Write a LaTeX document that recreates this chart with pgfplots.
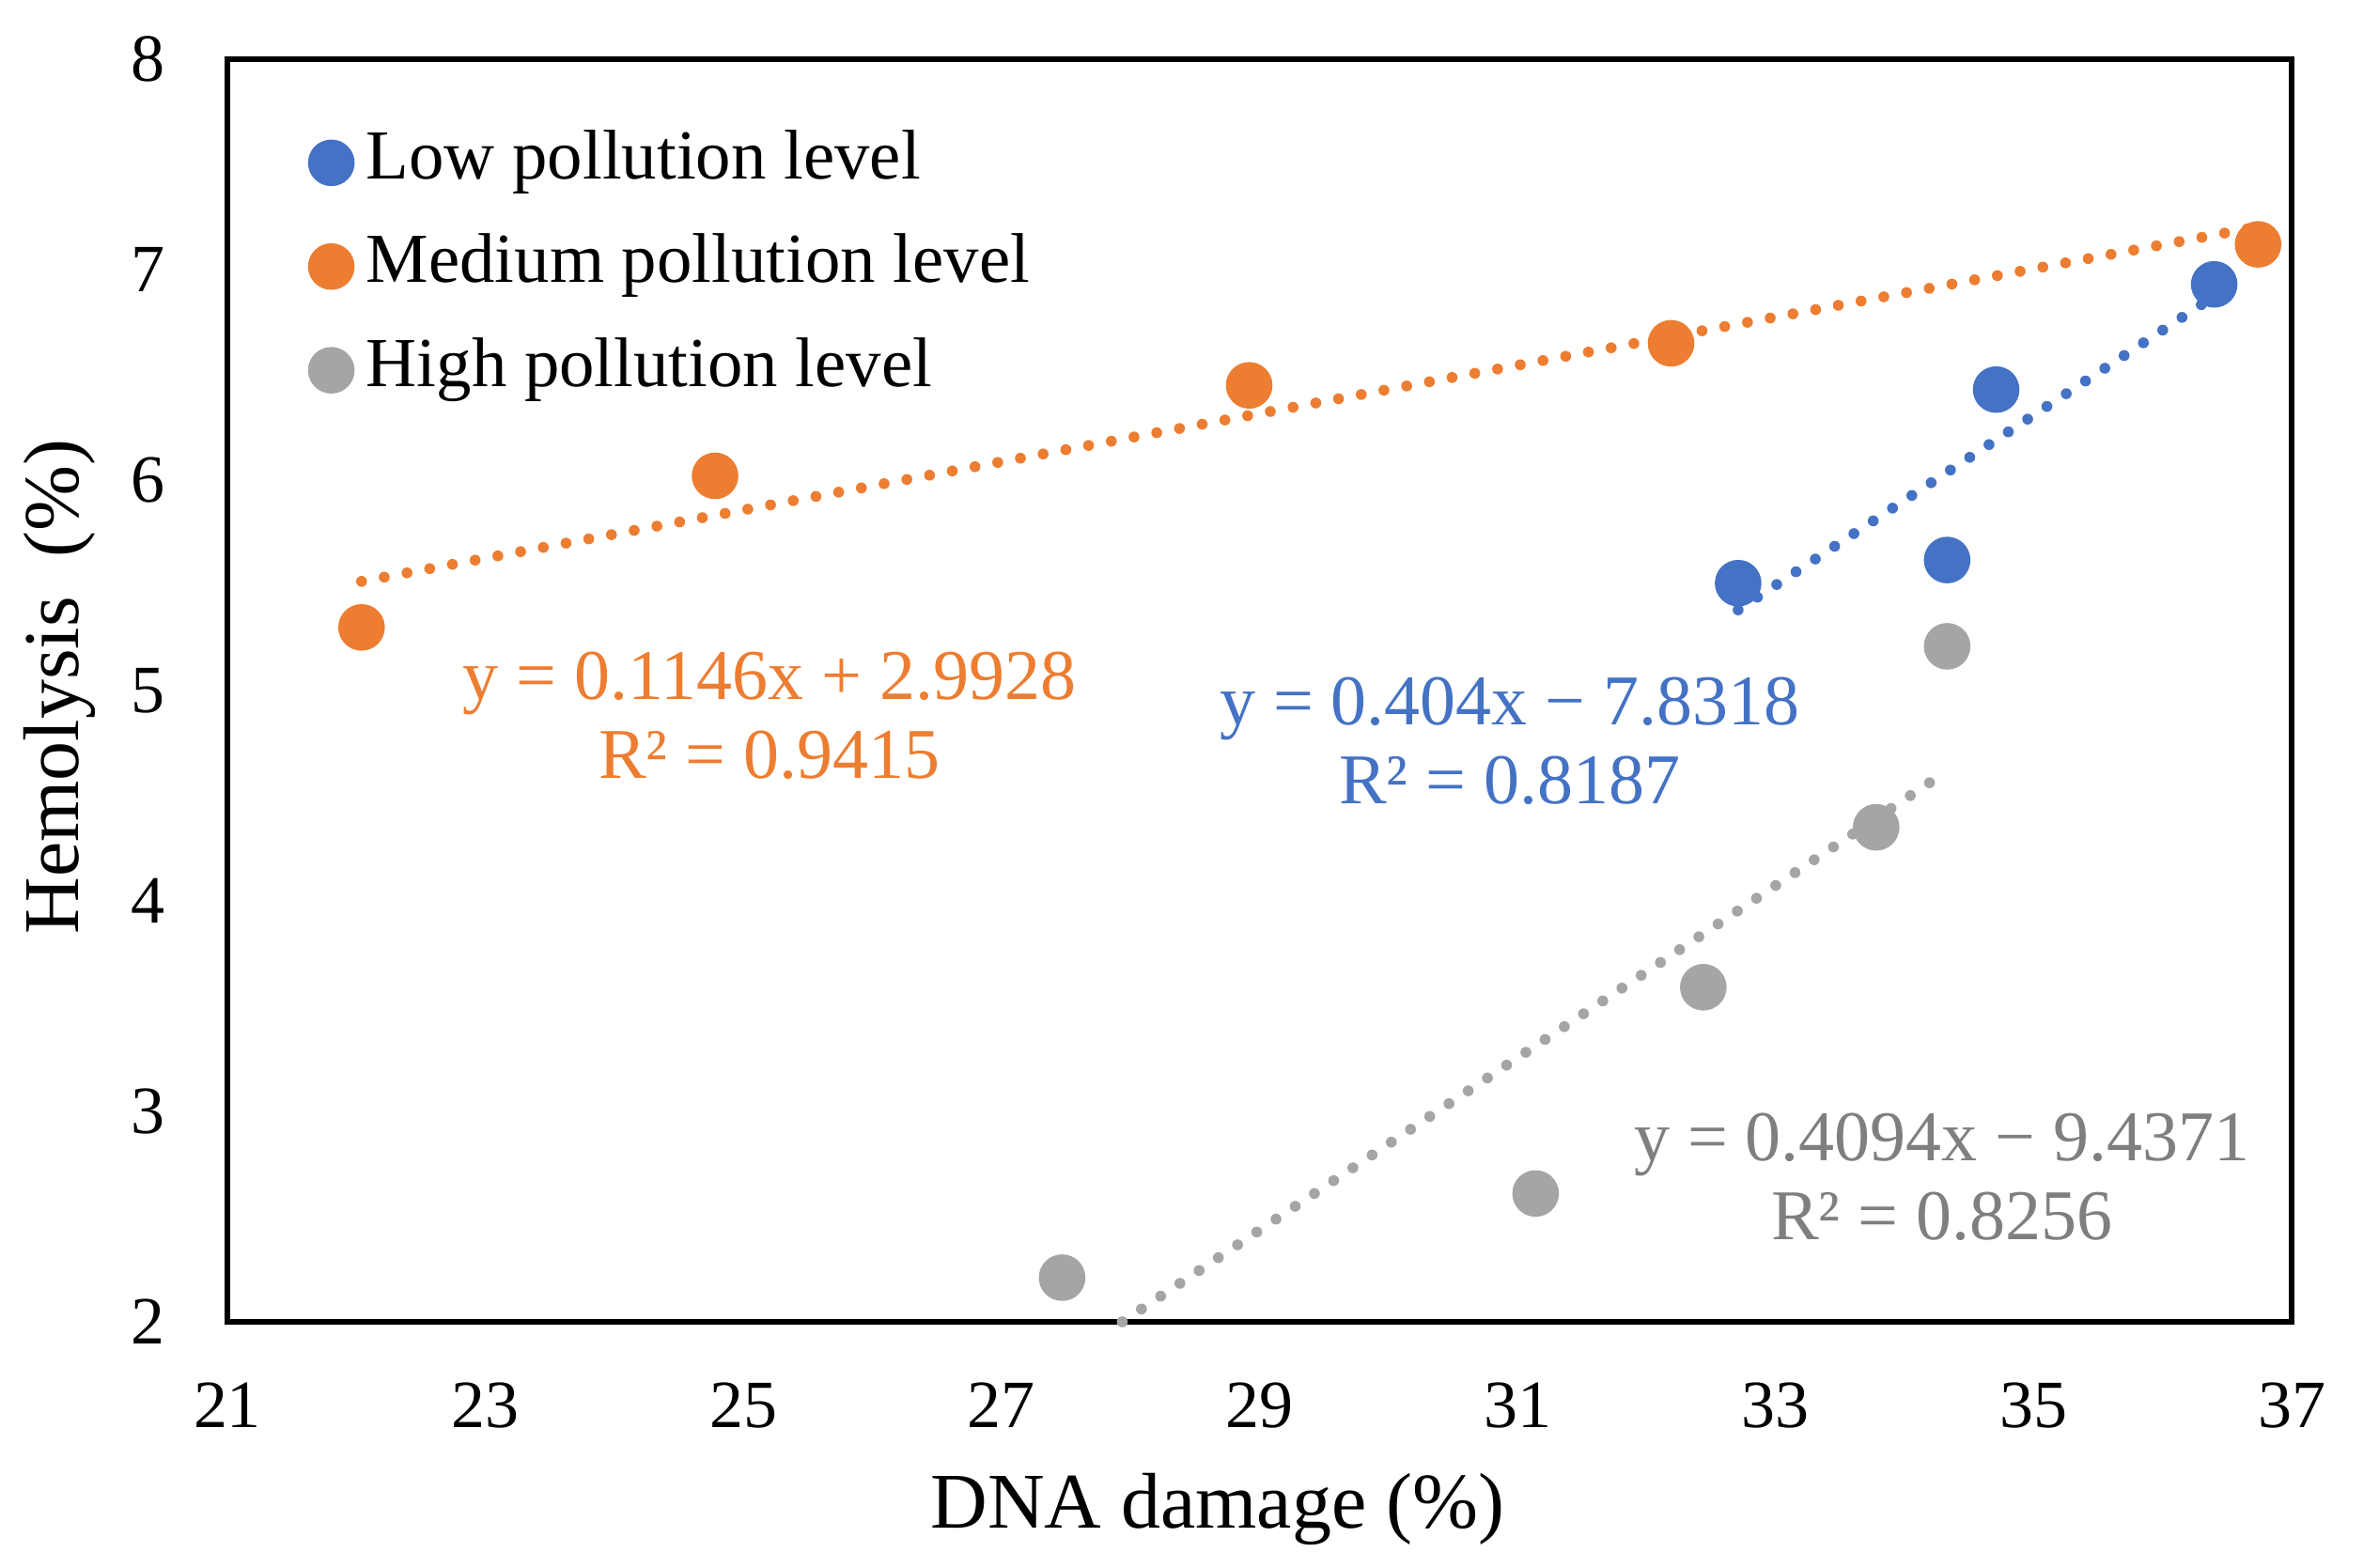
\documentclass[border=0pt]{standalone}
\usepackage{fontspec}
\setmainfont{Liberation Serif}
\usepackage{pgfplots}
\pgfplotsset{compat=1.18}
\definecolor{lowc}{HTML}{4472C4}
\definecolor{medc}{HTML}{ED7D31}
\definecolor{highc}{HTML}{A5A5A5}
\definecolor{higheq}{HTML}{7F7F7F}
\pgfplotsset{
  dotlegend/.style={legend image code/.code={\draw[##1] plot coordinates {(0pt,0pt)};}},
  trend/.style={line width=2.9pt, line cap=round, dash pattern=on 0pt off 6.15pt, forget plot},
}
\begin{document}
\begin{tikzpicture}[font=\fontsize{18}{22}\selectfont]
\path[use as bounding box] (0,0) rectangle (633pt,417.25pt);
\begin{axis}[
  at={(60.5pt,65.5pt)}, anchor=south west,
  scale only axis, width=549.25pt, height=336pt,
  xmin=21, xmax=37, ymin=2, ymax=8,
  xtick={21,23,...,37}, ytick={2,3,...,8},
  major tick length=0pt,
  axis line style={line width=1.6pt},
  clip=false,
  /pgf/number format/assume math mode=true,
  xticklabel style={anchor=base, inner sep=0pt, yshift=-28.25pt},
  yticklabel style={anchor=east, inner sep=0pt, xshift=-16.5pt},
  xlabel={DNA damage (\%)},
  ylabel={Hemolysis\ \ (\%)},
  every axis x label/.style={at={(axis description cs:0.4797,-0.1637)}, anchor=base, font=\fontsize{21}{24}\selectfont},
  every axis y label/.style={at={(axis description cs:-0.0815,0.503)}, rotate=90, anchor=center, font=\fontsize{21}{24}\selectfont},
  legend cell align=left,
  legend style={draw=none, fill=none, at={(axis description cs:0.0336,0.949)}, anchor=north west,
    row sep=11.1pt, font=\fontsize{18.7}{22}\selectfont,
    nodes={inner sep=0pt, text height=12.5pt, text depth=4pt},
    /tikz/every odd column/.append style={column sep=3.3pt}},
]
% trendlines
\addplot[trend, medc] coordinates {(22.04,5.5186) (36.74,7.2032)};
\addplot[trend, lowc] coordinates {(32.71,5.383) (36.40,6.8738)};
\addplot[trend, highc] coordinates {(27.936,2.0) (34.33,4.6176)};
% points
\addplot[only marks, mark=*, mark size=6pt, lowc, dotlegend] coordinates {
  (32.71,5.51) (34.71,6.43) (34.33,5.62) (36.40,6.93)
};
\addlegendentry{Low pollution level}
\addplot[only marks, mark=*, mark size=6pt, medc, dotlegend] coordinates {
  (22.04,5.30) (24.78,6.02) (28.92,6.45) (32.19,6.65) (36.74,7.12)
};
\addlegendentry{Medium pollution level}
\addplot[only marks, mark=*, mark size=6pt, highc, dotlegend] coordinates {
  (27.47,2.21) (31.14,2.61) (32.44,3.59) (33.78,4.35) (34.33,5.21)
};
\addlegendentry{High pollution level}
% equations
\node[medc, align=center, font=\fontsize{19}{21}\selectfont] at (axis cs:25.20,4.88) {y = 0.1146x + 2.9928\\R² = 0.9415};
\node[lowc, align=center, font=\fontsize{19}{21}\selectfont] at (axis cs:30.94,4.76) {y = 0.404x − 7.8318\\R² = 0.8187};
\node[higheq, align=center, font=\fontsize{19}{21}\selectfont] at (axis cs:34.29,2.69) {y = 0.4094x − 9.4371\\R² = 0.8256};
\end{axis}
\end{tikzpicture}
\end{document}
